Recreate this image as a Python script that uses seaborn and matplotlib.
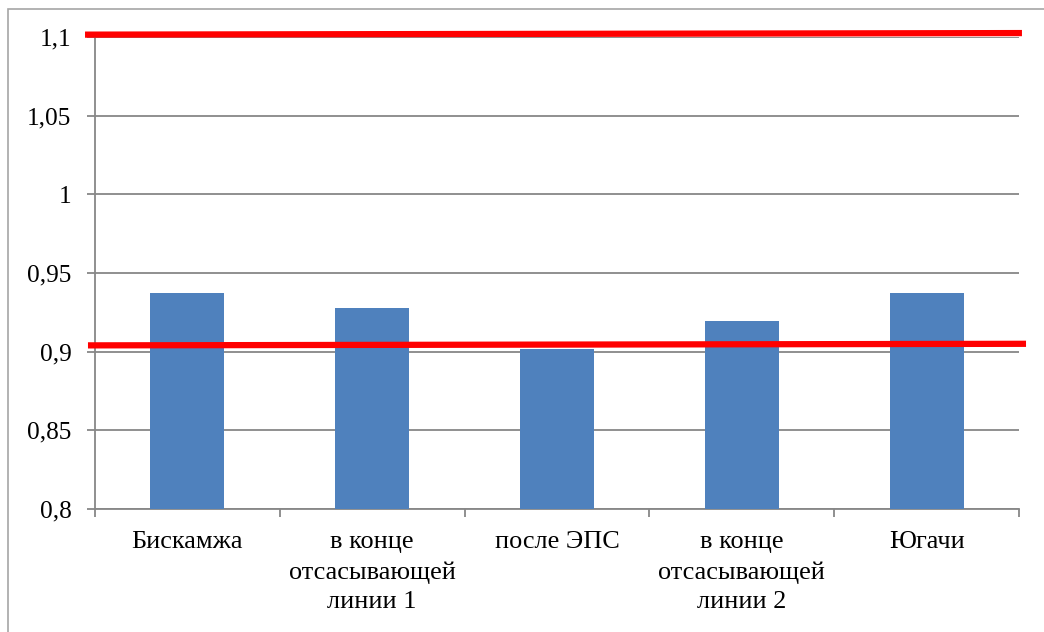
import matplotlib
matplotlib.use("Agg")
import matplotlib.pyplot as plt
import matplotlib.patches as mpatches
import numpy as np
import pandas as pd
import seaborn as sns

categories = ["Бискамжа", "в конце\nотсасывающей\nлинии 1", "после ЭПС",
              "в конце\nотсасывающей\nлинии 2", "Югачи"]
values = [0.937, 0.9275, 0.902, 0.9195, 0.9375]
y_ticks = [0.8, 0.85, 0.9, 0.95, 1.0, 1.05, 1.1]
y_tick_labels = ["0,8", "0,85", "0,9", "0,95", "1", "1,05", "1,1"]
# reference limits drawn as red lines (start value, end value)
upper_limit = [1.1015, 1.1025]
lower_limit = [0.904, 0.905]

FONT = "Liberation Serif"

sns.set_style("white")
plt.rcParams["font.family"] = "serif"
plt.rcParams["font.serif"] = [FONT, "DejaVu Serif"]

fig = plt.figure(figsize=(10.44, 6.32), dpi=100)
ax = fig.add_axes([95 / 1044, 1 - 509 / 632, (1019 - 95) / 1044, (509 - 37) / 632])

df = pd.DataFrame({"cat": categories, "val": values})
sns.barplot(data=df, x="cat", y="val", ax=ax, color="#4F81BD", saturation=1,
            width=0.4, linewidth=0, zorder=3)

grid_col = "#878787"
ax.set_ylim(0.8, 1.1)
ax.set_xlim(-0.5, len(categories) - 0.5)
ax.set_yticks(y_ticks)
ax.set_yticklabels(y_tick_labels, family=FONT, fontsize=18.2)
ax.yaxis.grid(True, color=grid_col, linewidth=1.3, zorder=0)
ax.set_axisbelow(True)
ax.set_xlabel("")
ax.set_ylabel("")

for side in ["top", "right"]:
    ax.spines[side].set_visible(False)
for side in ["left", "bottom"]:
    ax.spines[side].set_color(grid_col)
    ax.spines[side].set_linewidth(1.3)

ax.tick_params(axis="y", which="major", left=True, length=6, width=1.3,
               color=grid_col, pad=11, labelcolor="black")
ax.set_xticks(np.arange(len(categories)))
ax.set_xticklabels(categories, linespacing=1.45, family=FONT, fontsize=18.9,
                   va="top")
ax.set_xticks(np.arange(-0.5, len(categories)), minor=True)
ax.tick_params(axis="x", which="major", bottom=False, length=0, pad=16,
               labelcolor="black")
ax.tick_params(axis="x", which="minor", bottom=True, length=6, width=1.3,
               color=grid_col)

ax.plot([-0.554, 4.516], upper_limit, color="#FF0000", linewidth=4.5,
        solid_capstyle="butt", clip_on=False, zorder=5)
ax.plot([-0.538, 4.538], lower_limit, color="#FF0000", linewidth=4.5,
        solid_capstyle="butt", clip_on=False, zorder=5)

# chart frame
frame = mpatches.Rectangle((8 / 1044, -0.1), 1.2, 1 - 9 / 632 + 0.1,
                           transform=fig.transFigure, fill=False,
                           edgecolor="#A6A6A6", linewidth=1.2)
fig.patches.append(frame)

fig.savefig("out.png", dpi=100, facecolor="white")
